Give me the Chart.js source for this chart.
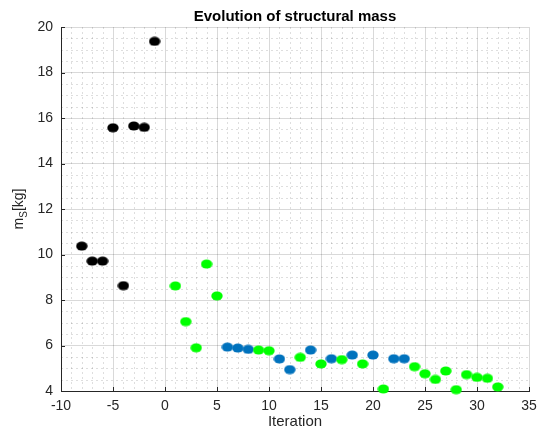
<!DOCTYPE html>
<html>
<head>
<meta charset="utf-8">
<script src="https://cdn.jsdelivr.net/npm/chart.js@4"></script>
<style>
  html, body { margin: 0; padding: 0; background: #ffffff; }
  #wrap { width: 537px; height: 430px; }
</style>
</head>
<body>
<div id="wrap"><canvas id="c" width="537" height="430"></canvas></div>
<script>
// ---- data ----
const chartTitle = "Evolution of structural mass";
const xAxisTitle = "Iteration";
const yAxisMain = "m";
const yAxisSub = "S";
const yAxisUnit = "[kg]";

const blackX = [-8, -7, -6, -5, -4, -3, -2, -1];
const blackY = [10.37, 9.71, 9.71, 15.57, 8.63, 15.65, 15.59, 19.37];

const greenX = [1, 2, 3, 4, 5, 9, 10, 13, 15, 17, 19, 21, 24, 25, 26, 27, 28, 29, 30, 31, 32];
const greenY = [8.62, 7.05, 5.90, 9.58, 8.18, 5.80, 5.77, 5.48, 5.19, 5.38, 5.19, 4.09, 5.07, 4.76, 4.51, 4.88, 4.06, 4.72, 4.60, 4.56, 4.18];

const blueX = [6, 7, 8, 11, 12, 14, 16, 18, 20, 22, 23];
const blueY = [5.93, 5.89, 5.83, 5.41, 4.94, 5.80, 5.42, 5.58, 5.58, 5.42, 5.42];

const xMin = -10, xMax = 35, xStep = 5, xMinorStep = 1;
const yMin = 4, yMax = 20, yStep = 2, yMinorStep = 0.5;

// ---- styles ----
const FONT = "'Liberation Sans', Arial, Helvetica, sans-serif";
const TEXT = "#262626";

function ellipseMarker(color) {
  const c = document.createElement('canvas');
  c.width = 12; c.height = 10;
  const g = c.getContext('2d');
  g.fillStyle = color;
  g.beginPath();
  g.ellipse(6, 5, 5.7, 4.6, 0, 0, Math.PI * 2);
  g.fill();
  return c;
}

function toPts(xs, ys) { return xs.map((x, i) => ({ x: x, y: ys[i] })); }

const decorPlugin = {
  id: 'decor',
  beforeDraw(chart) {
    const ctx = chart.ctx;
    const a = chart.chartArea;
    const xs = chart.scales.x, ys = chart.scales.y;
    ctx.save();
    ctx.fillStyle = '#ffffff';
    ctx.fillRect(0, 0, chart.width, chart.height);
    // minor grid (dotted)
    ctx.strokeStyle = 'rgba(0,0,0,0.13)';
    ctx.lineWidth = 1;
    ctx.setLineDash([2, 3]);
    for (let v = xMin; v <= xMax + 1e-9; v += xMinorStep) {
      if (Math.abs(v % xStep) < 1e-9) continue;
      const px = Math.round(xs.getPixelForValue(v)) + 0.5;
      ctx.beginPath(); ctx.moveTo(px, a.top); ctx.lineTo(px, a.bottom); ctx.stroke();
    }
    for (let v = yMin; v <= yMax + 1e-9; v += yMinorStep) {
      if (Math.abs(v % yStep) < 1e-9) continue;
      const py = Math.round(ys.getPixelForValue(v)) + 0.5;
      ctx.beginPath(); ctx.moveTo(a.left, py); ctx.lineTo(a.right, py); ctx.stroke();
    }
    ctx.restore();
  },
  afterDraw(chart) {
    const ctx = chart.ctx;
    const a = chart.chartArea;
    const xs = chart.scales.x, ys = chart.scales.y;
    ctx.save();
    // inward tick marks
    ctx.strokeStyle = TEXT;
    ctx.lineWidth = 1;
    ctx.setLineDash([]);
    for (let v = xMin; v <= xMax + 1e-9; v += xStep) {
      const px = Math.round(xs.getPixelForValue(v)) + 0.5;
      ctx.beginPath(); ctx.moveTo(px, a.bottom); ctx.lineTo(px, a.bottom - 4); ctx.stroke();
    }
    for (let v = yMin; v <= yMax + 1e-9; v += yStep) {
      const py = Math.round(ys.getPixelForValue(v)) + 0.5;
      ctx.beginPath(); ctx.moveTo(a.left, py); ctx.lineTo(a.left + 4, py); ctx.stroke();
    }
    // title
    ctx.fillStyle = '#000000';
    ctx.font = 'bold 15px ' + FONT;
    ctx.textAlign = 'center';
    ctx.textBaseline = 'alphabetic';
    ctx.fillText(chartTitle, (a.left + a.right) / 2, 21);
    // x axis title
    ctx.fillStyle = TEXT;
    ctx.font = '15px ' + FONT;
    ctx.fillText(xAxisTitle, (a.left + a.right) / 2, 426);
    // y axis title: m_S[kg], rotated
    ctx.translate(23, (a.top + a.bottom) / 2);
    ctx.rotate(-Math.PI / 2);
    const fMain = '14px ' + FONT, fSub = '10px ' + FONT;
    ctx.font = fMain; const wM = ctx.measureText(yAxisMain).width; const wU = ctx.measureText(yAxisUnit).width;
    ctx.font = fSub; const wS = ctx.measureText(yAxisSub).width;
    let x0 = -(wM + wS + wU) / 2;
    ctx.textAlign = 'left';
    ctx.font = fMain; ctx.fillText(yAxisMain, x0, 0); x0 += wM;
    ctx.font = fSub; ctx.fillText(yAxisSub, x0, 4); x0 += wS;
    ctx.font = fMain; ctx.fillText(yAxisUnit, x0, 0);
    ctx.restore();
  }
};

new Chart(document.getElementById('c'), {
  type: 'scatter',
  data: {
    datasets: [
      { label: 'initial', data: toPts(blackX, blackY), pointStyle: ellipseMarker('#000000'), clip: false },
      { label: 'green', data: toPts(greenX, greenY), pointStyle: ellipseMarker('#00ff00'), clip: false },
      { label: 'blue', data: toPts(blueX, blueY), pointStyle: ellipseMarker('#0072bd'), clip: false }
    ]
  },
  options: {
    responsive: false,
    animation: false,
    devicePixelRatio: 1,
    layout: { padding: { top: 27, right: 8, left: 0, bottom: 0 } },
    plugins: { legend: { display: false }, tooltip: { enabled: false }, title: { display: false } },
    scales: {
      x: {
        type: 'linear', min: xMin, max: xMax,
        ticks: { stepSize: xStep, color: TEXT, font: { family: FONT, size: 14 }, padding: 7, maxRotation: 0 },
        grid: { color: 'rgba(0,0,0,0.15)', drawTicks: false, lineWidth: 1 },
        border: { display: true, color: TEXT, width: 1 },
        afterFit(s) { s.height = 39; s.paddingLeft = 0; s.paddingRight = 0; }
      },
      y: {
        type: 'linear', min: yMin, max: yMax,
        ticks: { stepSize: yStep, color: TEXT, font: { family: FONT, size: 14 }, padding: 8 },
        grid: { color: 'rgba(0,0,0,0.15)', drawTicks: false, lineWidth: 1 },
        border: { display: true, color: TEXT, width: 1 },
        afterFit(s) { s.width = 61; s.paddingTop = 0; s.paddingBottom = 0; }
      }
    }
  },
  plugins: [decorPlugin]
});
</script>
</body>
</html>
